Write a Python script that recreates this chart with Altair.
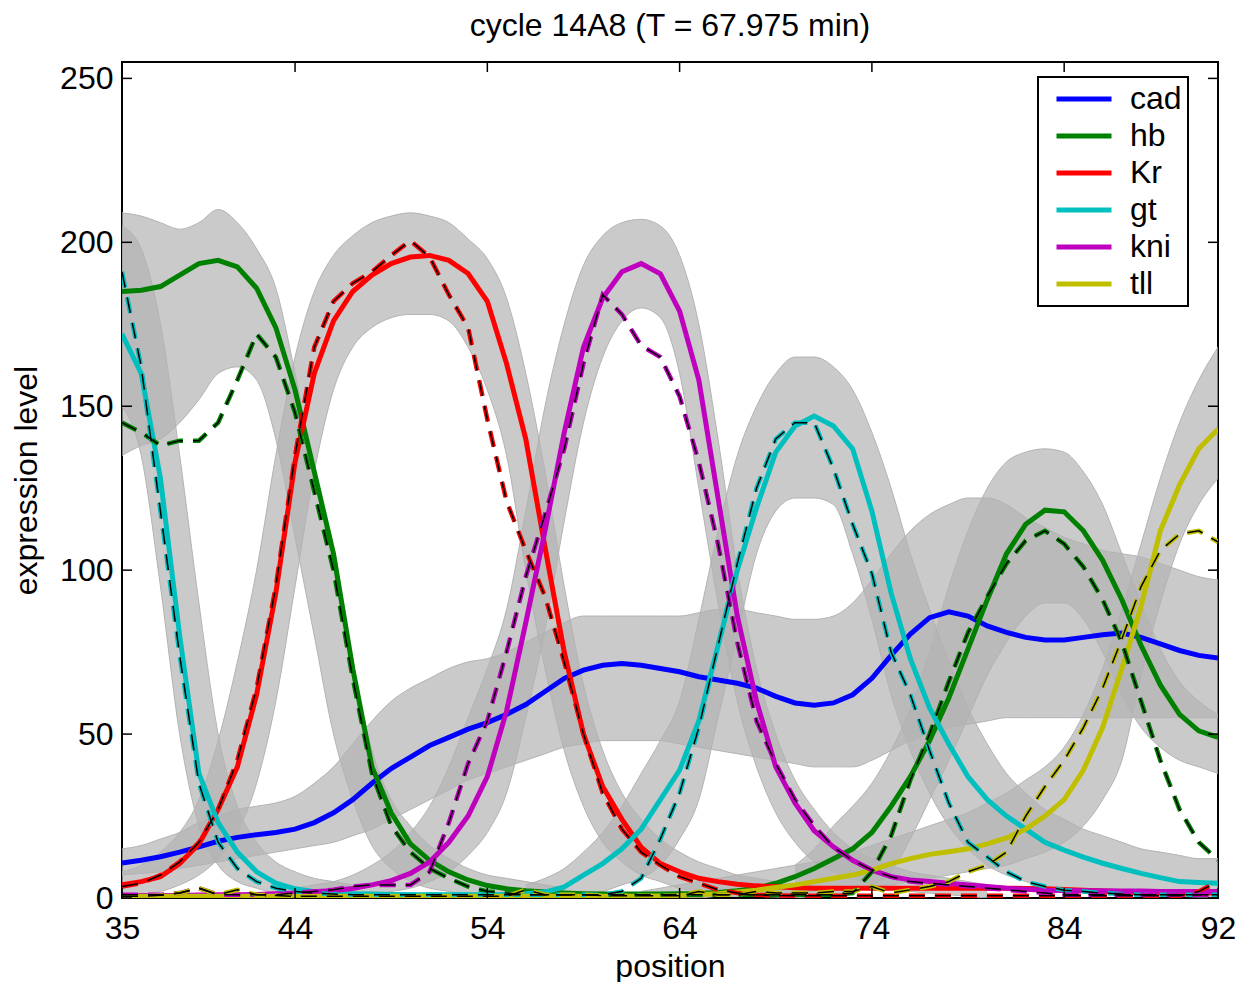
import altair as alt
import pandas as pd

# ---------------- data ----------------
X = list(range(35, 93))
GENES = ["cad", "hb", "Kr", "gt", "kni", "tll"]
COLORS = ["#0000ff", "#008000", "#ff0000", "#00bfbf", "#bf00bf", "#bfbf00"]
XTICKS = [35, 44, 54, 64, 74, 84, 92]
YTICKS = [0, 50, 100, 150, 200, 250]

# model curves (solid)
cad = [10.7, 11.5, 12.6, 14.0, 15.6, 17.3, 18.5, 19.3, 20.0, 21.0, 23.0, 26.0, 30.0, 35.0, 39.5, 43.0, 46.5, 49.0, 51.5, 53.5,
       56.0, 59.0, 63.0, 67.0, 69.5, 71.0, 71.5, 71.0, 70.0, 69.0, 67.5, 66.5, 65.5, 64.0, 61.5, 59.5, 58.8, 59.5, 62.0, 67.0,
       74.0, 80.5, 85.5, 87.3, 86.0, 83.0, 81.0, 79.5, 78.7, 78.7, 79.5, 80.3, 80.8, 79.5, 77.5, 75.5, 74.0, 73.2]
hb = [185.0, 185.4, 186.5, 190.0, 193.5, 194.5, 192.5, 186.0, 174.0, 155.0, 130.0, 105.0, 70.0, 40.0, 26.0, 16.5, 11.5, 8.0, 5.5, 3.8,
      2.8, 2.2, 1.8, 1.5, 1.3, 1.2, 1.2, 1.2, 1.2, 1.3, 1.4, 1.7, 2.2, 3.0, 4.5, 6.5, 9.0, 12.0, 15.0, 20.0,
      28.0, 37.0, 48.0, 61.0, 76.0, 91.0, 105.0, 114.0, 118.3, 117.8, 112.0, 103.0, 91.0, 77.0, 65.0, 56.0, 51.0, 49.0]
Kr = [4.0, 5.0, 6.5, 10.5, 16.5, 27.0, 40.0, 62.0, 93.0, 133.0, 160.0, 176.0, 185.0, 190.0, 193.5, 195.5, 196.0, 194.5, 190.5, 182.0,
      163.0, 140.0, 107.0, 75.0, 50.0, 34.0, 24.0, 15.5, 10.5, 8.0, 6.0, 5.0, 4.2, 3.7, 3.4, 3.1, 3.0, 3.0, 3.0, 3.0,
      3.0, 3.0, 3.0, 3.0, 3.0, 3.0, 3.0, 2.9, 2.8, 2.6, 2.4, 2.1, 1.9, 1.7, 1.6, 1.5, 1.5, 1.5]
gt = [172.0, 160.0, 128.0, 80.0, 38.0, 23.0, 14.0, 8.0, 4.5, 2.8, 1.9, 1.5, 1.3, 1.2, 1.1, 1.0, 1.0, 1.0, 1.0, 1.0,
      1.1, 1.3, 1.8, 3.4, 7.0, 10.5, 15.0, 21.0, 30.0, 39.0, 54.0, 77.0, 100.0, 119.0, 136.0, 144.0, 147.0, 144.0, 137.0, 118.0,
      93.0, 73.0, 58.0, 47.0, 37.0, 30.0, 25.0, 21.0, 17.0, 14.6, 12.5, 10.6, 9.0, 7.5, 6.2, 5.0, 4.7, 4.5]
kni = [0.8, 0.8, 0.8, 0.8, 0.9, 1.0, 1.0, 1.1, 1.3, 1.5, 1.9, 2.3, 2.9, 4.0, 5.3, 7.5, 11.0, 17.0, 25.0, 37.0,
       57.0, 84.0, 112.0, 142.0, 168.0, 183.0, 191.0, 193.5, 190.4, 179.0, 158.0, 122.0, 86.0, 60.0, 40.0, 29.0, 20.5, 15.6, 11.5, 8.5,
       6.5, 5.5, 5.0, 4.5, 4.0, 3.5, 3.0, 2.7, 2.4, 2.3, 2.2, 2.2, 2.1, 2.1, 2.0, 2.0, 2.0, 2.0]
tll = [0.5, 0.5, 0.5, 0.5, 0.5, 0.5, 0.5, 0.5, 0.5, 0.5, 0.5, 0.5, 0.5, 0.5, 0.5, 0.5, 0.5, 0.5, 0.5, 0.5,
       0.5, 0.5, 0.5, 0.5, 0.5, 0.5, 0.5, 0.5, 0.6, 0.8, 1.0, 1.3, 1.8, 2.4, 3.2, 4.0, 5.0, 6.0, 7.0, 8.5,
       10.5, 12.0, 13.3, 14.1, 15.0, 16.5, 18.3, 21.0, 25.0, 30.0, 39.0, 52.0, 70.0, 89.0, 112.0, 126.0, 137.0, 143.0]

# measured data (dashed)
hb_data = [145, 142, 138, 139.5, 139.5, 145, 158, 172, 165, 148, 124, 100, 67, 38, 22, 14, 9, 6, 3.5, 2,
           1.5, 1, 1, 1, 1, 1, 1, 1, 1, 1, 1, 1, 1, 1, 1, 1, 1, 1, 1.5, 8,
           19, 36, 50, 66, 81, 92, 102, 109, 112, 108, 101, 91, 78, 60, 42, 27, 17, 11.6]
Kr_data = [3.5, 4.5, 7, 11, 17, 27, 42, 64, 95, 135, 168, 182, 187.5, 191, 196, 200.5, 195.5, 184, 174, 146,
           121, 106, 92, 72, 50, 32, 21, 14, 10, 6.5, 4.5, 2.5, 1.5, 1, 0.8, 0.7, 0.7, 0.7, 0.7, 0.7,
           0.7, 0.7, 0.7, 0.7, 0.7, 0.7, 0.7, 0.7, 0.7, 0.7, 0.7, 0.7, 0.7, 0.7, 0.7, 0.7, 2, 5]
gt_data = [191, 162, 118, 74, 35, 17, 9, 5, 3, 2, 1.5, 1.2, 1, 1, 1, 1, 1, 1, 1, 1,
           1, 1, 1, 1, 1, 1, 2, 6, 18, 32, 52, 77, 102, 125, 140, 145, 145, 131, 114, 99,
           75, 62, 45, 29, 17, 12.5, 8, 5, 3.5, 2.4, 2, 1.5, 1.2, 1, 1, 1, 1, 1]
kni_data = [1, 1, 1, 1.5, 3, 1, 1, 1, 1, 1.5, 2, 2.5, 3.5, 4, 4, 4, 8, 23, 41, 54,
            75, 98, 117, 137, 163, 184, 178, 168.5, 165, 153, 133, 108, 78, 54, 41, 30, 22, 15.5, 11.5, 8.5,
            6.5, 5, 4.5, 4, 3.5, 3, 2.5, 2, 1.5, 1, 1, 1, 1, 1, 1, 1, 1, 1]
tll_data = [0.5, 0.5, 0.8, 1.5, 3, 1, 2.5, 1, 0.8, 0.5, 0.5, 0.5, 0.5, 0.5, 0.5, 0.5, 0.5, 0.5, 0.5, 0.5,
            0.5, 2.5, 1, 1, 1, 0.7, 0.7, 0.7, 0.7, 0.7, 2, 1, 1, 2, 1.5, 1.5, 1.5, 2, 2, 3.5,
            1.5, 2.5, 3.5, 5, 8, 10, 14, 25, 34, 42, 52, 64, 79, 95, 106, 111, 112, 108.6]

# grey bundles of individual nuclei: lower / upper envelopes, first x of each
band_start = {"hb_left": 35, "Kr": 35, "kni": 44, "gt_left": 35, "gt_right": 56,
              "hb_right": 70, "tll": 62, "cad": 35}
band_lo = {
    "hb_left": [135, 138, 140, 145, 152, 160, 162, 158, 140, 110, 80, 50, 30, 16, 9, 5, 3, 2, 1, 0.5, 0.3, 0.2, 0.1, 0],
    "Kr": [0, 1, 2, 4, 7, 12, 20, 35, 60, 95, 130, 155, 168, 174, 177, 178, 178, 176, 168, 155,
           135, 100, 70, 45, 28, 17, 11, 7, 5, 3, 2, 1, 1, 0.5, 0.3, 0],
    "kni": [0, 0, 0, 0.5, 1, 2, 3, 5, 8, 13, 20, 32, 55, 82, 115, 145, 165, 176, 180, 177,
            160, 125, 90, 60, 40, 26, 17, 11, 8, 6, 4, 3, 2, 1.5, 1, 0.5, 0],
    "gt_left": [150, 135, 95, 50, 22, 10, 5, 3, 1.5, 1, 0.5, 0.2, 0],
    "gt_right": [0, 0, 0.5, 1, 2, 4, 6, 10, 18, 30, 55, 80, 105, 118, 122, 122, 120, 105, 85, 62,
                 45, 32, 22, 15, 10, 7, 5, 3.5, 2.5, 2, 1.5, 1, 1, 0.5, 0.5, 0.3, 0.3],
    "hb_right": [0, 0.5, 1, 2, 4, 8, 18, 30, 42, 55, 68, 78, 86, 90, 90, 85, 75, 62, 52, 46, 42, 40, 38],
    "tll": [0, 0, 0, 0, 0.5, 0.5, 1, 1, 1.5, 2, 2.5, 3, 3.5, 4, 5, 6, 7, 8, 9, 10,
            12, 14, 17, 22, 30, 42, 68, 90, 108, 120, 128],
    "cad": [7, 7.5, 8, 9, 10, 11, 12, 13, 14, 15, 16, 17, 19, 21, 24, 27, 30, 33, 36, 38,
            40, 42, 44, 46, 47, 48, 48, 48, 48, 47, 46, 45, 44, 43, 42, 41, 40, 40, 40, 42,
            45, 48, 50, 52, 53, 54, 55, 55, 55, 55, 55, 55, 55, 55, 55, 55, 55, 55],
}
band_hi = {
    "hb_left": [209, 208, 206, 204, 206, 210, 206, 198, 186, 160, 130, 100, 70, 45, 30, 22, 16, 12, 9, 7, 6, 5, 4, 3],
    "Kr": [8, 10, 14, 20, 30, 48, 72, 100, 135, 165, 185, 196, 202, 206, 208, 209, 208, 206, 201, 195,
           183, 160, 130, 95, 65, 45, 32, 24, 18, 14, 11, 9, 7, 6, 5, 4],
    "kni": [3, 4, 5, 7, 10, 14, 20, 28, 40, 55, 70, 88, 118, 150, 175, 193, 202, 206, 207, 205,
            196, 175, 140, 100, 70, 50, 36, 27, 20, 15, 12, 10, 8, 7, 6, 5, 4],
    "gt_left": [205, 198, 175, 135, 90, 50, 28, 17, 11, 8, 6, 5, 4],
    "gt_right": [4, 6, 9, 14, 20, 28, 38, 48, 60, 85, 112, 135, 150, 160, 165, 165, 162, 155, 142, 125,
                 105, 88, 72, 58, 47, 38, 32, 27, 24, 21, 19, 17, 15, 14, 13, 12, 12],
    "hb_right": [10, 15, 22, 28, 35, 45, 58, 75, 95, 112, 125, 133, 136, 137, 136, 130, 120, 105, 90, 76, 66, 60, 56],
    "tll": [2, 3, 4, 5, 6, 7, 8, 9, 10, 11, 12, 14, 16, 18, 20, 22, 24, 26, 29, 32,
            36, 40, 46, 56, 70, 88, 108, 128, 145, 158, 168],
    "cad": [15, 16, 18, 20, 23, 25, 27, 28, 29, 31, 35, 40, 47, 54, 60, 64, 67, 70, 72, 73,
            75, 78, 81, 84, 86, 86, 86, 86, 86, 86, 87, 88, 88, 87, 86, 85, 85, 86, 90, 97,
            105, 112, 117, 120, 122, 122, 120, 116, 113, 110, 108, 106, 105, 104, 102, 100, 98, 97],
}

# ---------------- tables ----------------
model = {"cad": cad, "hb": hb, "Kr": Kr, "gt": gt, "kni": kni, "tll": tll}
measured = {"hb": hb_data, "Kr": Kr_data, "gt": gt_data, "kni": kni_data, "tll": tll_data}
for arr in list(model.values()) + list(measured.values()):
    assert len(arr) == len(X), len(arr)

solid_df = pd.DataFrame([{"gene": g, "x": x, "y": v} for g in GENES for x, v in zip(X, model[g])])
dash_df = pd.DataFrame([{"gene": g, "x": x, "y": v} for g in measured for x, v in zip(X, measured[g])])

band_rows, edge_rows = [], []
for b in band_start:
    lo, hi = band_lo[b], band_hi[b]
    assert len(lo) == len(hi), b
    for i, (l, h) in enumerate(zip(lo, hi)):
        x = band_start[b] + i
        band_rows.append({"band": b, "x": x, "lo": l, "hi": h})
        edge_rows.append({"key": b + "_lo", "x": x, "y": l})
        edge_rows.append({"key": b + "_hi", "x": x, "y": h})
band_df = pd.DataFrame(band_rows)
edge_df = pd.DataFrame(edge_rows)
xt_df = pd.DataFrame({"x": XTICKS})
yt_df = pd.DataFrame({"y": YTICKS})

# ---------------- encodings ----------------
W, H = 1096, 836
FONT = "Liberation Sans"
xs = alt.Scale(domain=[35, 92], nice=False, zero=False)
ys = alt.Scale(domain=[0, 255], nice=False, zero=False)
xax = alt.Axis(values=XTICKS, ticks=False, domain=False, grid=False, labelFontSize=32, labelPadding=15,
               labelFlush=False, labelOverlap=False, titleFontSize=32, titlePadding=7,
               titleFontWeight="normal", labelColor="black", titleColor="black", labelFont=FONT, titleFont=FONT)
yax = alt.Axis(values=YTICKS, ticks=False, domain=False, grid=False, labelFontSize=32, labelPadding=9,
               labelFlush=False, labelOverlap=False, titleFontSize=32, titlePadding=16,
               titleFontWeight="normal", labelColor="black", titleColor="black", labelFont=FONT, titleFont=FONT)


def X_(f="x"):
    return alt.X(f + ":Q", scale=xs, axis=xax, title="position")


def Y_(f):
    return alt.Y(f + ":Q", scale=ys, axis=yax, title="expression level")


cscale = alt.Scale(domain=GENES, range=COLORS)
legend = alt.Legend(orient="none", legendX=916, legendY=15, title=None, symbolType="stroke",
                    symbolStrokeWidth=5, symbolSize=3025, clipHeight=32, labelFontSize=32, labelFont=FONT,
                    labelColor="black", labelOffset=16, symbolOffset=10, padding=6, rowPadding=5,
                    strokeColor="black", fillColor="white")

bands = alt.Chart(band_df).mark_area(interpolate="monotone", color="#b3b3b3", opacity=0.7, clip=True).encode(
    x=X_(), y=Y_("lo"), y2="hi:Q", detail="band:N")
edges = alt.Chart(edge_df).mark_line(interpolate="monotone", color="#b3b3b3", strokeWidth=1, clip=True).encode(
    x=X_(), y=Y_("y"), detail="key:N")
solid = alt.Chart(solid_df).mark_line(strokeWidth=5, clip=True).encode(
    x=X_(), y=Y_("y"), color=alt.Color("gene:N", scale=cscale, legend=legend))
dash_c = alt.Chart(dash_df).mark_line(strokeWidth=4.5, strokeDash=[16, 10], clip=True).encode(
    x=X_(), y=Y_("y"), color=alt.Color("gene:N", scale=cscale, legend=None))
dash_k = alt.Chart(dash_df).mark_line(strokeWidth=1.5, strokeDash=[16, 10], color="black", clip=True).encode(
    x=X_(), y=Y_("y"), detail="gene:N")

tick_b = alt.Chart(xt_df).mark_rule(color="black", strokeWidth=1.5).encode(
    x=X_(), y=alt.value(H), y2=alt.value(H - 10))
tick_t = alt.Chart(xt_df).mark_rule(color="black", strokeWidth=1.5).encode(
    x=X_(), y=alt.value(0), y2=alt.value(10))
tick_l = alt.Chart(yt_df).mark_rule(color="black", strokeWidth=1.5).encode(
    y=Y_("y"), x=alt.value(0), x2=alt.value(10))
tick_r = alt.Chart(yt_df).mark_rule(color="black", strokeWidth=1.5).encode(
    y=Y_("y"), x=alt.value(W), x2=alt.value(W - 10))

chart = alt.layer(bands, edges, solid, dash_c, dash_k, tick_b, tick_t, tick_l, tick_r).properties(
    width=W, height=H,
    title=alt.TitleParams("cycle 14A8 (T = 67.975 min)", fontSize=32, font=FONT, fontWeight="normal",
                          color="black", anchor="middle", offset=18),
    padding={"left": 122, "top": 62, "right": 20, "bottom": 84},
    autosize=alt.AutoSizeParams(type="none"),
).configure(font=FONT).configure_view(stroke="black", strokeWidth=2).configure_legend(strokeWidth=2)

chart.save("out.html", embed_options={"renderer": "svg", "actions": False})
